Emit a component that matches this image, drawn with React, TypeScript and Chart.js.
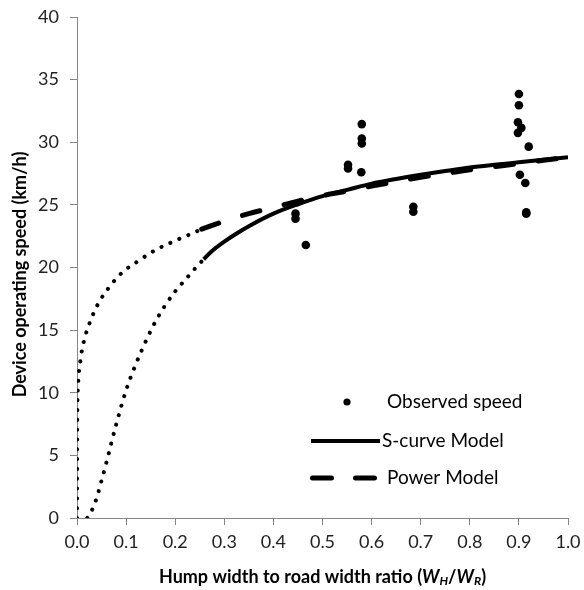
import React, { useEffect, useRef } from "react";
import { Chart, registerables } from "chart.js";

Chart.register(...registerables);

// Observed speeds (x = WH/WR, y = km/h)
const observedX = [0.445, 0.445, 0.466, 0.552, 0.552, 0.579, 0.58, 0.58, 0.58, 0.685, 0.685, 0.9, 0.9, 0.898, 0.905, 0.898, 0.92, 0.902, 0.913, 0.915, 0.915];
const observedY = [24.3, 23.9, 21.8, 28.2, 27.9, 27.6, 31.45, 30.3, 29.9, 24.85, 24.45, 33.85, 32.95, 31.6, 31.15, 30.75, 29.65, 27.4, 26.75, 24.4, 24.3];

// S-curve model, extrapolated (dotted) part
const sCurveDotX = [0.021, 0.03, 0.04, 0.05, 0.06, 0.07, 0.08, 0.1, 0.12, 0.14, 0.16, 0.18, 0.2, 0.22, 0.24, 0.258];
const sCurveDotY = [0, 0.6, 1.6, 3.0, 4.45, 6.0, 7.5, 10.2, 12.3, 14.1, 15.7, 17.0, 18.1, 19.0, 19.9, 20.66];
// S-curve model, fitted (solid) part
const sCurveX = [0.258, 0.275, 0.3, 0.325, 0.35, 0.4, 0.45, 0.5, 0.55, 0.6, 0.65, 0.7, 0.75, 0.8, 0.85, 0.9, 0.95, 1.0];
const sCurveY = [20.66, 21.32, 22.07, 22.72, 23.3, 24.3, 25.05, 25.7, 26.2, 26.7, 27.07, 27.4, 27.7, 27.98, 28.2, 28.4, 28.6, 28.8];

// Power model, extrapolated (dotted) part
const powerDotX = [0, 0.0005, 0.002, 0.007, 0.014, 0.026, 0.043, 0.065, 0.092, 0.124, 0.16, 0.196, 0.233, 0.254];
const powerDotY = [0, 7.5, 10.5, 12.6, 14.1, 15.6, 17.1, 18.4, 19.6, 20.5, 21.4, 22.07, 22.7, 23.06];
// Power model, fitted (dashed) part
const powerX = [0.254, 0.3, 0.35, 0.4, 0.45, 0.5, 0.55, 0.6, 0.65, 0.7, 0.75, 0.8, 0.85, 0.9, 0.95, 1.0];
const powerY = [23.06, 23.7, 24.3, 24.8, 25.3, 25.74, 26.1, 26.5, 26.86, 27.2, 27.5, 27.8, 28.05, 28.3, 28.56, 28.8];

const xTickValues = [0, 0.1, 0.2, 0.3, 0.4, 0.5, 0.6, 0.7, 0.8, 0.9, 1.0];
const yTickValues = [0, 5, 10, 15, 20, 25, 30, 35, 40];

const legendLabels = ["Observed speed", "S-curve Model", "Power Model"];
const yTitle = "Device operating speed (km/h)";
const xTitleMain = "Hump width to road width ratio (";

const FONT = "Lato, 'Open Sans', sans-serif";
const AXIS_GRAY = "#868686";

const zip = (xs: number[], ys: number[]) => xs.map((x, i) => ({ x, y: ys[i] }));

const overlayPlugin = {
  id: "overlay",
  afterDraw(chart: any) {
    const { ctx, chartArea } = chart;
    const L = chartArea.left;
    const T = chartArea.top;
    ctx.save();
    ctx.fillStyle = "#000";
    ctx.strokeStyle = "#000";

    // Legend
    ctx.font = `19px ${FONT}`;
    ctx.textBaseline = "middle";
    ctx.textAlign = "left";
    // observed
    ctx.beginPath();
    ctx.arc(L + 270, T + 385, 3.6, 0, Math.PI * 2);
    ctx.fill();
    ctx.fillText(legendLabels[0], L + 310, T + 385);
    // s-curve
    ctx.lineWidth = 4;
    ctx.lineCap = "butt";
    ctx.beginPath();
    ctx.moveTo(L + 234, T + 424);
    ctx.lineTo(L + 303, T + 424);
    ctx.stroke();
    ctx.fillText(legendLabels[1], L + 305, T + 424);
    // power
    ctx.lineWidth = 5;
    ctx.lineCap = "round";
    ctx.beginPath();
    ctx.moveTo(L + 235.5, T + 461);
    ctx.lineTo(L + 254.5, T + 461);
    ctx.moveTo(L + 278.5, T + 461);
    ctx.lineTo(L + 297.5, T + 461);
    ctx.stroke();
    ctx.fillText(legendLabels[2], L + 310, T + 461);

    // Y title
    ctx.save();
    ctx.font = `bold 18px ${FONT}`;
    ctx.textAlign = "center";
    ctx.textBaseline = "middle";
    ctx.translate(20, (chartArea.top + chartArea.bottom) / 2 + 7);
    ctx.rotate(-Math.PI / 2);
    ctx.fillText(yTitle, 0, 0);
    ctx.restore();

    // X title with italic W and subscripts
    const big = `bold 18px ${FONT}`;
    const bigIt = `italic bold 18px ${FONT}`;
    const small = `italic bold 12px ${FONT}`;
    const parts: [string, string, number][] = [
      [xTitleMain, big, 0],
      ["W", bigIt, 0],
      ["H", small, 4],
      ["/", big, 0],
      ["W", bigIt, 0],
      ["R", small, 4],
      [")", big, 0],
    ];
    let total = 0;
    parts.forEach(([t, f]) => {
      ctx.font = f;
      total += ctx.measureText(t).width;
    });
    let x = (chartArea.left + chartArea.right) / 2 - total / 2;
    const yBase = 577;
    ctx.textAlign = "left";
    ctx.textBaseline = "middle";
    parts.forEach(([t, f, dy]) => {
      ctx.font = f;
      ctx.fillText(t, x, yBase + dy);
      x += ctx.measureText(t).width;
    });
    ctx.restore();
  },
};

export default function App() {
  const ref = useRef<HTMLCanvasElement | null>(null);

  useEffect(() => {
    if (!ref.current) return;
    const dotted = {
      borderColor: "#000",
      borderWidth: 4,
      borderDash: [0.1, 9.7],
      borderCapStyle: "round" as const,
      pointRadius: 0,
      fill: false,
      cubicInterpolationMode: "monotone" as const,
      showLine: true,
    };
    const chart = new Chart(ref.current, {
      type: "scatter",
      data: {
        datasets: [
          { ...dotted, label: "S-curve extrapolated", data: zip(sCurveDotX, sCurveDotY) },
          { ...dotted, label: "Power extrapolated", data: zip(powerDotX, powerDotY) },
          {
            label: legendLabels[1],
            data: zip(sCurveX, sCurveY),
            showLine: true,
            borderColor: "#000",
            borderWidth: 4,
            pointRadius: 0,
            cubicInterpolationMode: "monotone",
          },
          {
            label: legendLabels[2],
            data: zip(powerX, powerY),
            showLine: true,
            borderColor: "#000",
            borderWidth: 5,
            borderDash: [18, 25],
            borderCapStyle: "round",
            pointRadius: 0,
            cubicInterpolationMode: "monotone",
          },
          {
            label: legendLabels[0],
            data: zip(observedX, observedY),
            showLine: false,
            backgroundColor: "#000",
            borderColor: "#000",
            pointRadius: 4.3,
            pointBorderWidth: 0,
          },
        ],
      },
      options: {
        responsive: false,
        animation: false,
        devicePixelRatio: 1,
        layout: { padding: { top: 17, right: 16, left: 0, bottom: 0 } },
        plugins: { legend: { display: false }, tooltip: { enabled: false } },
        scales: {
          x: {
            type: "linear",
            min: 0,
            max: 1,
            afterFit: (s: any) => {
              s.height = 72;
              s.paddingLeft = 0;
              s.paddingRight = 0;
            },
            afterBuildTicks: (s: any) => { s.ticks = xTickValues.map((v) => ({ value: v })); },
            ticks: {
              color: "#222",
              font: { family: FONT, size: 18 },
              padding: 6,
              callback: (v: any) => Number(v).toFixed(1),
              maxRotation: 0,
            },
            grid: { drawOnChartArea: false, drawTicks: true, tickLength: 7, color: AXIS_GRAY },
            border: { color: AXIS_GRAY, width: 1 },
          },
          y: {
            type: "linear",
            min: 0,
            max: 40,
            afterFit: (s: any) => {
              s.width = 77;
              s.paddingTop = 0;
              s.paddingBottom = 0;
            },
            afterBuildTicks: (s: any) => { s.ticks = yTickValues.map((v) => ({ value: v })); },
            ticks: {
              color: "#222",
              font: { family: FONT, size: 18 },
              padding: 11,
              callback: (v: any) => String(v),
            },
            grid: { drawOnChartArea: false, drawTicks: true, tickLength: 7, color: AXIS_GRAY },
            border: { color: AXIS_GRAY, width: 1 },
          },
        },
      },
      plugins: [overlayPlugin],
    });
    return () => chart.destroy();
  }, []);

  return (
    <div style={{ position: "absolute", left: 0, top: 0, width: 584, height: 590, background: "#fff" }}>
      <canvas ref={ref} width={584} height={590} style={{ display: "block" }} />
    </div>
  );
}
